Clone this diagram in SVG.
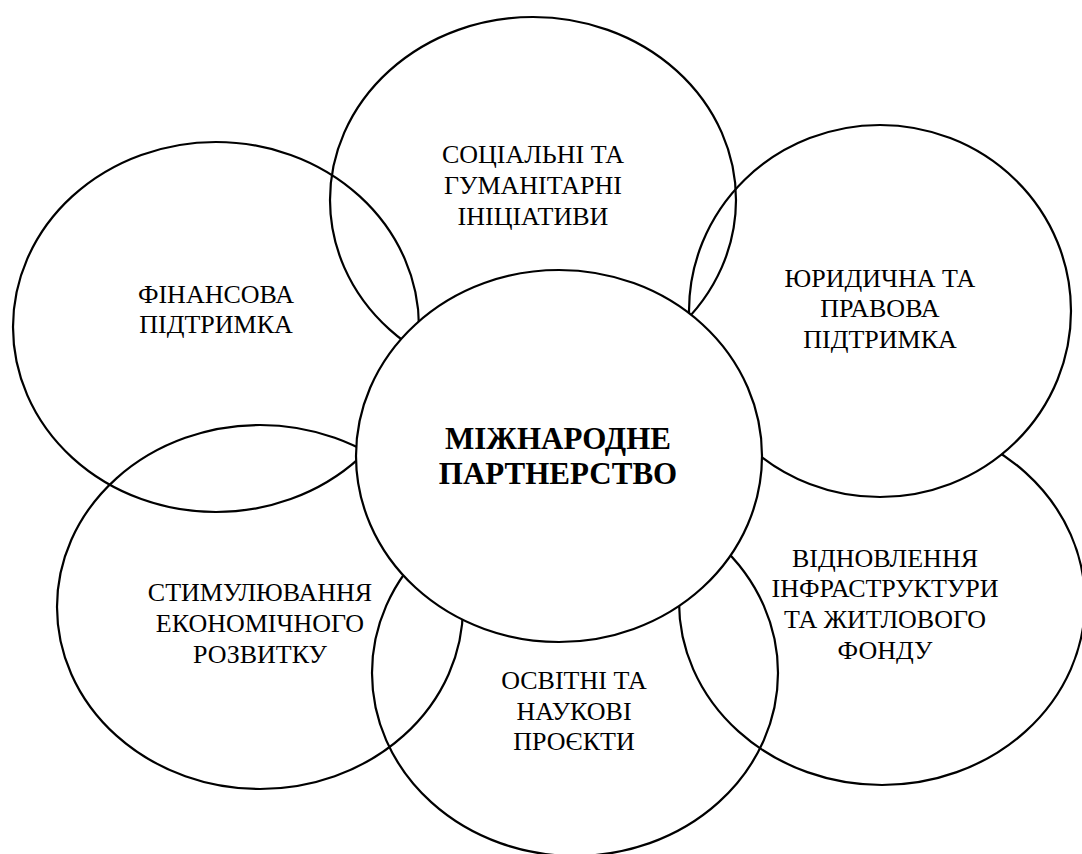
<svg xmlns="http://www.w3.org/2000/svg" width="1082" height="854" viewBox="0 0 1082 854">
<style>
.e{stroke:#000;stroke-width:2.2;fill:none}
.w{fill:#fff}
.t{font-family:"Liberation Serif","Times New Roman",serif;font-size:26px;fill:#000;text-anchor:middle}
.b{font-weight:bold;font-size:31px}
</style>
<rect width="1082" height="854" fill="#fff"/>
<g id="connectors"></g>
<g id="node-br"><ellipse class="e" cx="882" cy="602" rx="203" ry="183"/></g>
<g id="node-r"><ellipse class="e w" cx="880" cy="311" rx="191" ry="186"/></g>
<g id="node-t"><ellipse class="e" cx="533" cy="200" rx="203" ry="183"/></g>
<g id="node-l"><ellipse class="e" cx="216" cy="327" rx="203" ry="185"/></g>
<g id="node-bl"><ellipse class="e" cx="260" cy="607" rx="203" ry="182"/></g>
<g id="node-bc"><ellipse class="e" cx="575" cy="673" rx="203" ry="183"/></g>
<g id="node-c"><ellipse class="e w" cx="559" cy="456" rx="203" ry="186"/></g>
<g id="labels">
<text class="t" x="533" y="163">СОЦІАЛЬНІ ТА</text>
<text class="t" x="533" y="194">ГУМАНІТАРНІ</text>
<text class="t" x="533" y="225">ІНІЦІАТИВИ</text>
<text class="t" x="216" y="303">ФІНАНСОВА</text>
<text class="t" x="216" y="333">ПІДТРИМКА</text>
<text class="t" x="880" y="287">ЮРИДИЧНА ТА</text>
<text class="t" x="880" y="317">ПРАВОВА</text>
<text class="t" x="880" y="348">ПІДТРИМКА</text>
<text class="t" x="260" y="601">СТИМУЛЮВАННЯ</text>
<text class="t" x="260" y="632">ЕКОНОМІЧНОГО</text>
<text class="t" x="260" y="663">РОЗВИТКУ</text>
<text class="t" x="574" y="689">ОСВІТНІ ТА</text>
<text class="t" x="574" y="720">НАУКОВІ</text>
<text class="t" x="574" y="750">ПРОЄКТИ</text>
<text class="t" x="885" y="567">ВІДНОВЛЕННЯ</text>
<text class="t" x="885" y="597">ІНФРАСТРУКТУРИ</text>
<text class="t" x="885" y="628">ТА ЖИТЛОВОГО</text>
<text class="t" x="885" y="659">ФОНДУ</text>
<text class="t b" x="558" y="449">МІЖНАРОДНЕ</text>
<text class="t b" x="558" y="484">ПАРТНЕРСТВО</text>
</g>
</svg>
